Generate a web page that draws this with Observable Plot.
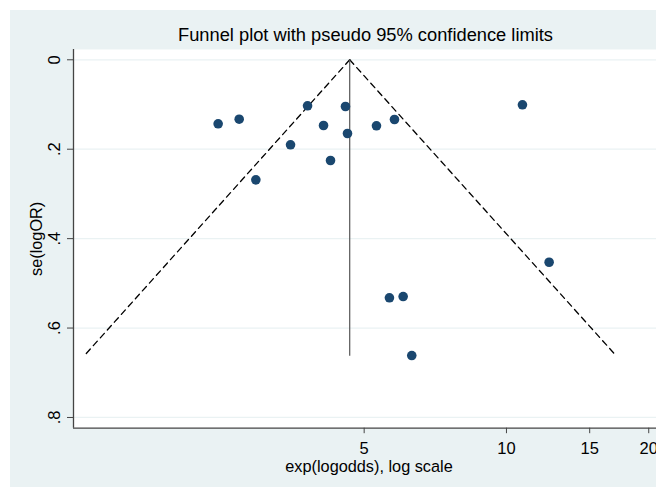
<!DOCTYPE html>
<html>
<head>
<meta charset="utf-8">
<script src="https://cdn.jsdelivr.net/npm/d3@7"></script>
<script src="https://cdn.jsdelivr.net/npm/@observablehq/plot@0.6"></script>
<style>
  html, body { margin: 0; padding: 0; background: #ffffff; }
  body { width: 656px; height: 487px; position: relative; overflow: hidden; font-family: "Liberation Sans", Arial, sans-serif; }
  #graph { position: absolute; left: 10px; top: 10px; width: 646px; height: 477px; background: #eaf2f3; overflow: hidden; }
  #title { position: absolute; left: 0; top: 16px; width: 711px; text-align: center; font-size: 18.3px; line-height: 18px; color: #000; white-space: nowrap; }
  #plot { position: absolute; left: 0; top: 39px; }
  #plot svg { display: block; background: transparent; }
</style>
</head>
<body>
<div id="graph">
  <div id="title">Funnel plot with pseudo 95% confidence limits</div>
  <div id="plot"></div>
</div>
<script>
// Study estimates: odds ratio (exp(logodds)) and standard error of logOR
const studyOR = [2.455, 2.720, 2.950, 3.493, 3.795, 4.102, 4.244, 4.565, 4.610, 5.309, 5.796, 10.81, 12.31, 5.655, 6.046, 6.305];
const studySE = [0.1432, 0.1329, 0.2685, 0.1902, 0.1029, 0.1470, 0.2253, 0.1045, 0.1649, 0.1477, 0.1336, 0.1007, 0.4528, 0.5324, 0.5295, 0.6615];

// Pooled estimate and pseudo 95% confidence limits
const pooledOR = 4.66;
const funnelSE = [0, 0.663];
const lowerLimitOR = [4.66, 1.276];
const upperLimitOR = [4.66, 17.1];

// Axes
const xTicks = [5, 10, 15, 20];
const yTicks = [0, 0.2, 0.4, 0.6, 0.8];
const yTickLabels = ["0", ".2", ".4", ".6", ".8"];
const xDomain = [1.2135, 20.77];
const yDomain = [-0.023, 0.824];
const xTitle = "exp(logodds), log scale";
const yTitle = "se(logOR)";

const points = studyOR.map((v, i) => ({or: v, se: studySE[i]}));
const funnel = [
  ...funnelSE.map((s, i) => ({or: lowerLimitOR[i], se: s, side: "lower"})),
  ...funnelSE.map((s, i) => ({or: upperLimitOR[i], se: s, side: "upper"}))
];
const yLabelRows = yTicks.map((t, i) => ({t, label: yTickLabels[i]}));

const chart = Plot.plot({
  width: 646,
  height: 438,
  marginLeft: 63,
  marginRight: 0,
  marginTop: 0,
  marginBottom: 59.3,
  style: {fontFamily: "'Liberation Sans', Arial, sans-serif", fontSize: "16.5px", color: "#000", background: "transparent"},
  x: {type: "log", domain: xDomain},
  y: {domain: yDomain, reverse: true},
  marks: [
    Plot.frame({fill: "#ffffff", stroke: null}),
    Plot.gridY(yTicks, {stroke: "#eaf2f3", strokeOpacity: 1, strokeWidth: 1.2}),
    Plot.axisX({ticks: xTicks, tickSize: 5.5, tickPadding: 8.5, tickFormat: d => String(d), label: null, stroke: "#444", fontSize: 16.5}),
    Plot.axisY({ticks: yTicks, tickSize: 6, tickFormat: () => "", label: null, stroke: "#444"}),
    Plot.text(yLabelRows, {y: "t", text: "label", frameAnchor: "left", dx: -13.5, rotate: -90, textAnchor: "middle", lineAnchor: "bottom", fontSize: 16.5, fill: "#000"}),
    Plot.text([xTitle], {frameAnchor: "bottom", dy: 43.5, dx: 4, lineAnchor: "bottom", textAnchor: "middle", fontSize: 16.3, fill: "#000"}),
    Plot.text([yTitle], {frameAnchor: "left", dx: -31.3, rotate: -90, textAnchor: "middle", lineAnchor: "bottom", fontSize: 16.3, fill: "#000"}),
    Plot.line(funnel, {x: "or", y: "se", z: "side", stroke: "#000", strokeWidth: 1.3, strokeDasharray: "6,4.5"}),
    Plot.ruleX([pooledOR], {y1: funnelSE[0], y2: funnelSE[1], stroke: "#555", strokeWidth: 1.2}),
    Plot.ruleX([xDomain[0]], {stroke: "#444", strokeWidth: 1.3}),
    Plot.ruleY([yDomain[1]], {stroke: "#444", strokeWidth: 1.3}),
    Plot.dot(points, {x: "or", y: "se", r: 4.8, fill: "#1a476f", stroke: null})
  ]
});
document.getElementById("plot").appendChild(chart);
</script>
</body>
</html>
